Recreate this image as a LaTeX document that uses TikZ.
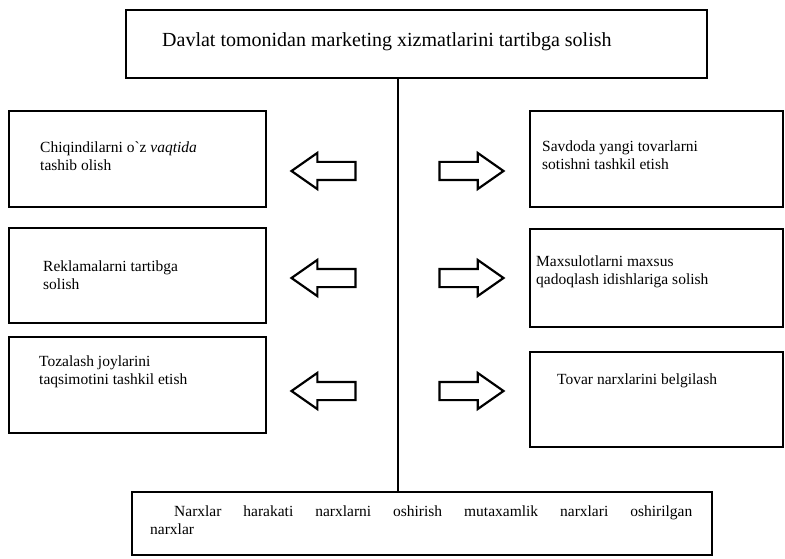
\documentclass[tikz,border=0pt]{standalone}
\usepackage{fontspec}
\setmainfont{Liberation Serif}
\usetikzlibrary{shapes.arrows, positioning, calc}

\begin{document}
\begin{tikzpicture}[
    x=1pt, y=-1pt,
    box/.style={rectangle, draw=black, line width=2.6pt, inner sep=0pt},
    txt/.style={anchor=west, align=left, inner sep=0pt, font=\fontsize{15.5}{18}\selectfont},
    blockarrow/.style={single arrow, draw=black, fill=white, line width=2.2pt, inner sep=0pt,
        text height=8pt, text depth=8pt, minimum height=64pt,
        single arrow head extend=9pt, single arrow tip angle=70},
    spine/.style={line width=2pt, black},
]
\useasboundingbox (0,0) rectangle (785,559);

% top and bottom boxes
\node[box, minimum width=581pt, minimum height=68pt] (davlat) at (416.5,44) {};
\node[txt, font=\fontsize{20}{24}\selectfont] (davlatT) at (162,42) {Davlat tomonidan marketing xizmatlarini tartibga solish};

\node[box, minimum width=580pt, minimum height=63pt] (narx) at (422,523.5) {};
\node[txt] (narxT) at (150,520) {\hspace*{24pt}\makebox[518pt][s]{Narxlar harakati narxlarni oshirish mutaxamlik narxlari oshirilgan}\\narxlar};

% central line
\coordinate (axis) at (398,0);
\draw[spine] (davlat.south -| axis) -- (narx.north -| axis);

% left column
\node[box, minimum width=257pt, minimum height=96pt] (chiq) at (137.5,159) {};
\node[box, minimum width=257pt, minimum height=95pt] (rekl) at (137.5,275.5) {};
\node[box, minimum width=257pt, minimum height=96pt] (toza) at (137.5,385) {};
\node[txt] (chiqT) at (40,156) {Chiqindilarni o\textasciigrave z \textit{vaqtida}\\tashib olish};
\node[txt] (reklT) at (43,275) {Reklamalarni tartibga\\solish};
\node[txt] (tozaT) at (39,372) {Tozalash joylarini\\taqsimotini tashkil etish};

% right column
\node[box, minimum width=253pt, minimum height=96pt] (savd) at (656.5,159) {};
\node[box, minimum width=253pt, minimum height=98pt] (maxs) at (656.5,278) {};
\node[box, minimum width=253pt, minimum height=95pt] (tovar) at (656.5,399.5) {};
\node[txt] (savdT) at (542,155) {Savdoda yangi tovarlarni\\sotishni tashkil etish};
\node[txt] (maxsT) at (536,272) {Maxsulotlarni maxsus\\qadoqlash idishlariga solish};
\node[txt] (tovarT) at (557,381) {Tovar narxlarini belgilash};

% arrows either side of the line
\foreach \name/\ypos in {a/171, b/278, c/391} {
    \node[blockarrow, shape border rotate=180] (left\name) at (330,\ypos) {};
    \node[blockarrow] (right\name) at (465,\ypos) {};
}

\end{tikzpicture}
\end{document}
